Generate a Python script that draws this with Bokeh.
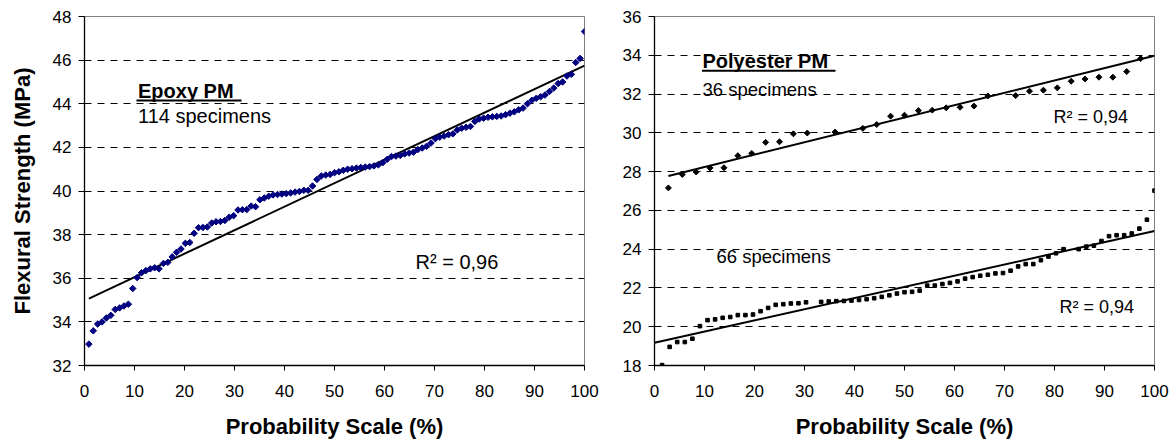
import numpy as np
from bokeh.plotting import figure
from bokeh.models import Range1d, FixedTicker, Label
from bokeh.layouts import row
from bokeh.embed import file_html
from bokeh.resources import INLINE

FONT = "Liberation Sans"

# ---------------- data ----------------
x_ticks = list(range(0, 101, 10))
epoxy_y_ticks = list(range(32, 49, 2))
poly_y_ticks = list(range(18, 37, 2))

epoxy_n = 114
epoxy_rank = list(range(1, 115))
epoxy_strength = [
    32.98, 33.59, 33.90, 34.00, 34.18, 34.30, 34.57, 34.64, 34.73, 34.81,
    35.53, 36.03, 36.25, 36.35, 36.43, 36.48, 36.43, 36.68, 36.73, 36.98,
    37.19, 37.34, 37.60, 37.64, 38.06, 38.32, 38.33, 38.35, 38.53, 38.59,
    38.60, 38.65, 38.80, 38.87, 39.13, 39.14, 39.15, 39.31, 39.28, 39.60,
    39.68, 39.76, 39.82, 39.84, 39.86, 39.88, 39.91, 39.95, 39.98, 40.03,
    40.03, 40.23, 40.53, 40.69, 40.73, 40.76,
    40.84, 40.88, 40.95, 41.00, 41.02, 41.05, 41.08, 41.10, 41.12, 41.15,
    41.20, 41.30, 41.45, 41.58, 41.60, 41.63, 41.70, 41.74, 41.78, 41.90,
    41.97, 42.05, 42.20, 42.40, 42.47, 42.52, 42.58, 42.62, 42.80, 42.88,
    42.92, 42.96, 43.19, 43.30, 43.34, 43.38, 43.40, 43.42, 43.44, 43.50,
    43.57, 43.63, 43.72, 43.80, 44.00, 44.16, 44.25, 44.32, 44.40, 44.56,
    44.72, 44.93, 45.00, 45.27, 45.35, 45.89, 46.08, 47.31,
]
epoxy_trend = (34.97, 0.1078)  # intercept, slope
epoxy_title = "Epoxy PM"
epoxy_count = "114 specimens"
epoxy_r2 = "R\u00b2 = 0,96"

poly36_n = 36
poly36_rank = [1, 2, 3, 4, 5, 6, 7, 8, 9, 10, 11, 13, 15, 16, 17, 18, 19, 20,
               21, 22, 23, 24, 26, 27, 28, 29, 30, 31, 32, 33, 34, 35]
poly36_strength = [27.16, 27.85, 27.98, 28.19, 28.20, 28.82, 28.94, 29.51, 29.54,
                   29.95, 29.99, 30.04, 30.23, 30.43, 30.86, 30.91, 31.15, 31.17,
                   31.29, 31.32, 31.38, 31.90, 31.92, 32.15, 32.20, 32.32, 32.66,
                   32.78, 32.87, 32.87, 33.16, 33.83]
poly36_trend = (27.60, 0.0638)
poly36_r2 = "R\u00b2 = 0,94"

poly66_n = 66
poly66_rank = [1, 2, 3, 4, 5, 6, 7, 8, 9, 10, 11, 12, 13, 14, 15, 16, 17, 18, 19, 20,
               22, 23, 24, 25, 26, 27, 28, 29, 30, 31, 32, 33, 34, 35, 36, 37, 38, 39,
               40, 41, 42, 43, 44, 45, 46, 47, 48, 49, 50, 51, 52, 53, 54, 56, 57, 58,
               59, 60, 61, 62, 63, 64, 65, 66]
poly66_strength = [18.02, 18.96, 19.21, 19.21, 19.38, 20.03, 20.34, 20.38, 20.46, 20.50,
                   20.60, 20.60, 20.63, 20.80, 20.97, 21.13, 21.16, 21.20, 21.21, 21.26,
                   21.28, 21.30, 21.32, 21.33, 21.35, 21.38, 21.42, 21.47, 21.54,
                   21.62, 21.71, 21.78, 21.80, 21.86, 22.12, 22.12, 22.20, 22.26, 22.34,
                   22.48, 22.56, 22.63, 22.68, 22.75, 22.77, 22.89, 23.11, 23.23, 23.23,
                   23.43, 23.62, 23.79, 24.00, 24.00, 24.13, 24.18, 24.42, 24.67,
                   24.72, 24.72, 24.81, 25.06, 25.52, 27.02]
poly66_trend = (19.17, 0.0577)
poly66_r2 = "R\u00b2 = 0,94"
poly_title = "Polyester PM"
poly36_count = "36 specimens"
poly66_count = "66 specimens"

x_title = "Probability Scale (%)"
y_title = "Flexural Strength (MPa)"


def prob(rank, n):
    return [r / n * 100.0 for r in rank]


def style(p, yticks):
    p.outline_line_color = "#808080"
    p.outline_line_width = 1
    p.background_fill_color = "white"
    p.border_fill_color = "white"
    p.xgrid.grid_line_color = None
    p.ygrid.grid_line_color = "black"
    p.ygrid.grid_line_dash = "7 6"
    p.ygrid.grid_line_width = 1
    p.ygrid.ticker = FixedTicker(ticks=yticks)
    for ax in (p.xaxis[0], p.yaxis[0]):
        ax.axis_line_color = "black"
        ax.axis_line_width = 1.3
        ax.major_tick_line_color = "black"
        ax.major_tick_line_width = 1
        ax.minor_tick_line_color = None
        ax.major_tick_in = 0
        ax.major_label_text_font = FONT
        ax.major_label_text_font_size = "17px"
        ax.major_label_text_color = "black"
        ax.axis_label_text_font = FONT
        ax.axis_label_text_font_style = "bold"
        ax.axis_label_text_font_size = "22px"
        ax.axis_label_text_color = "black"
    p.xaxis.ticker = FixedTicker(ticks=x_ticks)
    p.yaxis.ticker = FixedTicker(ticks=yticks)
    p.xaxis.major_tick_out = 5
    p.yaxis.major_tick_out = 6
    p.xaxis.major_label_standoff = 14
    p.yaxis.major_label_standoff = 7
    p.xaxis.axis_label = x_title
    p.xaxis.axis_label_standoff = 14


def add_text(p, x, y, text, size, bold=False):
    p.add_layout(Label(x=x, y=y, text=text, text_font=FONT, text_font_size=size,
                       text_font_style="bold" if bold else "normal",
                       text_color="black", text_baseline="alphabetic",
                       text_align="left"))


# ---------------- left: epoxy ----------------
p1 = figure(width=600, height=441, output_backend="svg", toolbar_location=None,
            x_range=Range1d(0, 100), y_range=Range1d(32, 48),
            min_border_left=84, min_border_right=16, min_border_top=16,
            min_border_bottom=75)
style(p1, epoxy_y_ticks)
p1.yaxis.axis_label = y_title
p1.yaxis.axis_label_standoff = 15

ex = prob(epoxy_rank, epoxy_n)
tx = np.array([min(ex), 100.0])
p1.line(tx, epoxy_trend[0] + epoxy_trend[1] * tx, line_color="black", line_width=2)
p1.scatter(ex, epoxy_strength, marker="square", angle=np.pi / 4, size=4.6,
           fill_color="#000080", line_color="#000080")

add_text(p1, 10.7, 44.58, epoxy_title, "20px", bold=True)
p1.segment(x0=[10.4], y0=[44.15], x1=[31.4], y1=[44.15], line_color="black", line_width=2)
add_text(p1, 10.7, 43.44, epoxy_count, "20px")
add_text(p1, 66.2, 36.75, epoxy_r2, "20px")

# ---------------- right: polyester ----------------
p2 = figure(width=571, height=441, output_backend="svg", toolbar_location=None,
            x_range=Range1d(0, 100), y_range=Range1d(18, 36),
            min_border_left=54, min_border_right=17, min_border_top=16,
            min_border_bottom=75)
style(p2, poly_y_ticks)

px36 = prob(poly36_rank, poly36_n)
t36 = np.array([min(px36), 100.0])
p2.line(t36, poly36_trend[0] + poly36_trend[1] * t36, line_color="black", line_width=2)
p2.scatter(px36, poly36_strength, marker="square", angle=np.pi / 4, size=4.2,
           fill_color="black", line_color="black")

px66 = prob(poly66_rank, poly66_n)
t66 = np.array([0.0, 100.0])
p2.line(t66, poly66_trend[0] + poly66_trend[1] * t66, line_color="black", line_width=2)
p2.scatter(px66, poly66_strength, marker="square", size=3.6,
           fill_color="black", line_color="black")

add_text(p2, 9.6, 33.69, poly_title, "20px", bold=True)
p2.segment(x0=[9.5], y0=[33.2], x1=[36.2], y1=[33.2], line_color="black", line_width=2)
add_text(p2, 9.6, 32.25, poly36_count, "18.5px")
add_text(p2, 79.8, 30.81, poly36_r2, "18px")
add_text(p2, 12.4, 23.60, poly66_count, "18.5px")
add_text(p2, 81.0, 21.03, poly66_r2, "18px")

layout = row(p1, p2, spacing=0)
open("out.html", "w").write(file_html(layout, INLINE))
